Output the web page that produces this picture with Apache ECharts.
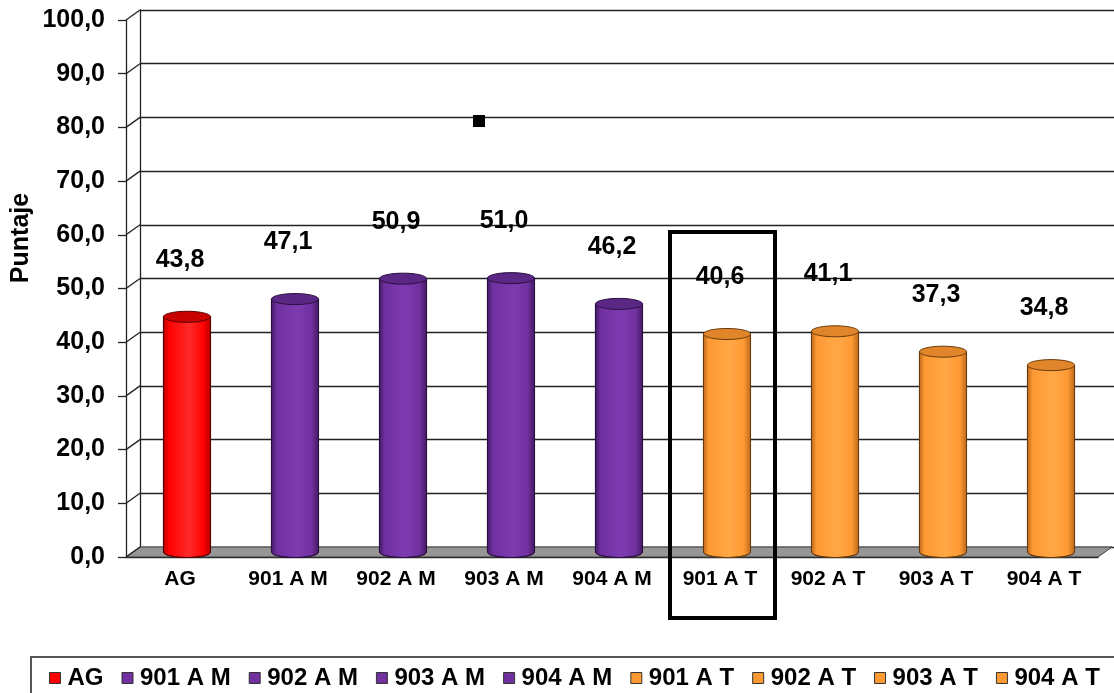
<!DOCTYPE html>
<html>
<head>
<meta charset="utf-8">
<script src="https://cdn.jsdelivr.net/npm/echarts@6/dist/echarts.min.js"></script>
<style>
  html, body { margin: 0; padding: 0; background: #fff; }
  #chart { width: 1114px; height: 693px; }
</style>
</head>
<body>
<div id="chart"></div>
<script>
// Groups and their scores
const categories = ['AG', '901 A M', '902 A M', '903 A M', '904 A M', '901 A T', '902 A T', '903 A T', '904 A T'];
const puntaje = [43.8, 47.1, 50.9, 51.0, 46.2, 40.6, 41.1, 37.3, 34.8];
const jornada = ['general', 'manana', 'manana', 'manana', 'manana', 'tarde', 'tarde', 'tarde', 'tarde'];
const yTicks = [0, 10, 20, 30, 40, 50, 60, 70, 80, 90, 100];
const resaltado = '901 A T';

const FONT = '"Liberation Sans", Arial, sans-serif';
// depth of the pseudo-3D box (front plane -> back wall)
const DX = 14, DY = 10;

const palettes = {
  general: { base: '#ff0000', dark: '#a80000', light: '#ff2a2a', top: '#c80000', line: '#5a0000' },
  manana:  { base: '#7030a0', dark: '#3f1a5e', light: '#7d3bb0', top: '#5a2784', line: '#2a0f40' },
  tarde:   { base: '#ff9933', dark: '#b8661a', light: '#ffa845', top: '#e0852a', line: '#6a3a0a' }
};

const fmt = v => v.toFixed(1).replace('.', ',');

function ellipsePts(cx, cy, rx, ry, a0, a1, n) {
  const pts = [];
  for (let k = 0; k <= n; k++) {
    const a = a0 + (a1 - a0) * k / n;
    pts.push([cx + rx * Math.cos(a), cy + ry * Math.sin(a)]);
  }
  return pts;
}

function renderCylinder(params, api) {
  const ci = api.value(0), v = api.value(1);
  const top = api.coord([ci, v]);
  const base = api.coord([ci, 0]);
  const band = api.size([1, 0])[0];
  const rx = band * 0.218, ry = 5.5;
  const cx = top[0] + DX / 2;
  const yTop = top[1] - DY / 2, yBot = base[1] - DY / 2;
  const pal = palettes[jornada[ci]];

  const body = [[cx - rx, yTop]]
    .concat(ellipsePts(cx, yBot, rx, ry, Math.PI, 0, 30))
    .concat([[cx + rx, yTop]]);

  return {
    type: 'group',
    children: [
      {
        type: 'polygon',
        shape: { points: body },
        style: {
          fill: {
            type: 'linear', x: 0, y: 0, x2: 1, y2: 0,
            colorStops: [
              { offset: 0, color: pal.dark },
              { offset: 0.12, color: pal.base },
              { offset: 0.55, color: pal.light },
              { offset: 0.85, color: pal.base },
              { offset: 1, color: pal.dark }
            ]
          },
          stroke: pal.line, lineWidth: 1
        }
      },
      {
        type: 'polygon',
        shape: { points: ellipsePts(cx, yTop, rx, ry, 0, Math.PI * 2, 48) },
        style: { fill: pal.top, stroke: pal.line, lineWidth: 1 }
      },
      {
        type: 'text',
        style: {
          text: fmt(v), x: top[0], y: yTop - 57,
          align: 'center', verticalAlign: 'middle',
          font: 'bold 25px ' + FONT, fill: '#000'
        }
      }
    ]
  };
}

// floor of the box
function renderFloor(params, api) {
  const band = api.size([1, 0])[0];
  const p0 = api.coord([0, 0]);
  const pN = api.coord([categories.length - 1, 0]);
  const xl = p0[0] - band / 2, xr = pN[0] + band / 2, y = p0[1];
  return {
    type: 'polygon',
    shape: { points: [[xl, y], [xr, y], [xr + DX, y - DY], [xl + DX, y - DY]] },
    style: { fill: '#969696', stroke: '#3a3a3a', lineWidth: 1 }
  };
}

// side-wall edges joining front ticks to the back wall
function renderDiagonal(params, api) {
  const band = api.size([1, 0])[0];
  const p = api.coord([0, api.value(1)]);
  const x = p[0] - band / 2;
  return {
    type: 'line',
    shape: { x1: x, y1: p[1], x2: x + DX, y2: p[1] - DY },
    style: { stroke: '#222', lineWidth: 1.3 }
  };
}

const chart = echarts.init(document.getElementById('chart'), null, { renderer: 'canvas' });

const series = [
  {
    type: 'custom', name: '_floor', xAxisIndex: 0, yAxisIndex: 0, z: 1, silent: true,
    renderItem: renderFloor, data: [[0, 0]], encode: { x: 0, y: 1 }, clip: false
  },
  {
    type: 'custom', name: '_edges', xAxisIndex: 0, yAxisIndex: 0, z: 1, silent: true,
    renderItem: renderDiagonal, data: yTicks.map(t => [0, t]), encode: { x: 0, y: 1 }, clip: false
  }
];
categories.forEach((c, i) => {
  series.push({
    type: 'custom', name: c, xAxisIndex: 0, yAxisIndex: 0, z: 3,
    itemStyle: { color: palettes[jornada[i]].base },
    renderItem: renderCylinder, data: [[i, puntaje[i]]], encode: { x: 0, y: 1 }, clip: false
  });
});

chart.setOption({
  animation: false,
  backgroundColor: '#fff',
  grid: [
    { left: 126, right: 16, top: 20, bottom: 136 },   // front plane
    { left: 140, right: 0, top: 10, bottom: 146 }     // back wall
  ],
  xAxis: [
    {
      type: 'category', gridIndex: 0, data: categories,
      axisLine: { lineStyle: { color: '#222', width: 1.3 } },
      axisTick: { length: 7, lineStyle: { color: '#222', width: 1.3 } },
      axisLabel: { margin: 12, color: '#000', fontWeight: 'bold', fontSize: 21, fontFamily: FONT }
    },
    { type: 'value', gridIndex: 1, show: false, min: 0, max: 1 }
  ],
  yAxis: [
    {
      type: 'value', gridIndex: 0, min: 0, max: 100, interval: 10,
      axisLine: { show: true, lineStyle: { color: '#222', width: 1.3 } },
      axisTick: { show: true, length: 8, lineStyle: { color: '#222', width: 1.3 } },
      splitLine: { show: false },
      axisLabel: { margin: 21, color: '#000', fontWeight: 'bold', fontSize: 25, fontFamily: FONT, formatter: fmt }
    },
    {
      type: 'value', gridIndex: 1, min: 0, max: 100, interval: 10,
      axisLine: { show: true, lineStyle: { color: '#222', width: 1.3 } },
      axisTick: { show: false }, axisLabel: { show: false },
      splitLine: { show: true, lineStyle: { color: '#222', width: 1.4 } }
    }
  ],
  legend: {
    data: categories,
    left: 49, top: 666, padding: 0,
    itemWidth: 11, itemHeight: 11, itemGap: 18,
    icon: 'rect',
    itemStyle: { borderColor: '#333', borderWidth: 1 },
    textStyle: { color: '#000', fontWeight: 'bold', fontSize: 24, fontFamily: FONT, padding: [0, 0, 0, 2] },
    selectedMode: false
  },
  series: series
});

// annotations: legend frame, axis title, highlight frame around the chosen group, small marker
const cx = chart.convertToPixel({ xAxisIndex: 0 }, resaltado);
const band = chart.convertToPixel({ xAxisIndex: 0 }, categories[1]) - chart.convertToPixel({ xAxisIndex: 0 }, categories[0]);
const yHi = chart.convertToPixel({ yAxisIndex: 0 }, 60.5);
const yZero = chart.convertToPixel({ yAxisIndex: 0 }, 0);

chart.setOption({
  graphic: [
    {
      type: 'rect', silent: true,
      shape: { x: 31, y: 657, width: 1100, height: 60 },
      style: { fill: 'none', stroke: '#555', lineWidth: 2 }
    },
    {
      type: 'text', x: 21, y: 238, rotation: Math.PI / 2, silent: true,
      style: { text: 'Puntaje', font: 'bold 25px ' + FONT, fill: '#000', align: 'center', verticalAlign: 'middle' }
    },
    {
      type: 'rect', silent: true, z: 10,
      shape: { x: cx - band / 2 + 4, y: yHi, width: band - 3, height: yZero + 61 - yHi },
      style: { fill: 'none', stroke: '#000', lineWidth: 4 }
    },
    {
      type: 'rect', silent: true,
      shape: { x: 473, y: 115, width: 12, height: 12 },
      style: { fill: '#000' }
    }
  ]
});
</script>
</body>
</html>
